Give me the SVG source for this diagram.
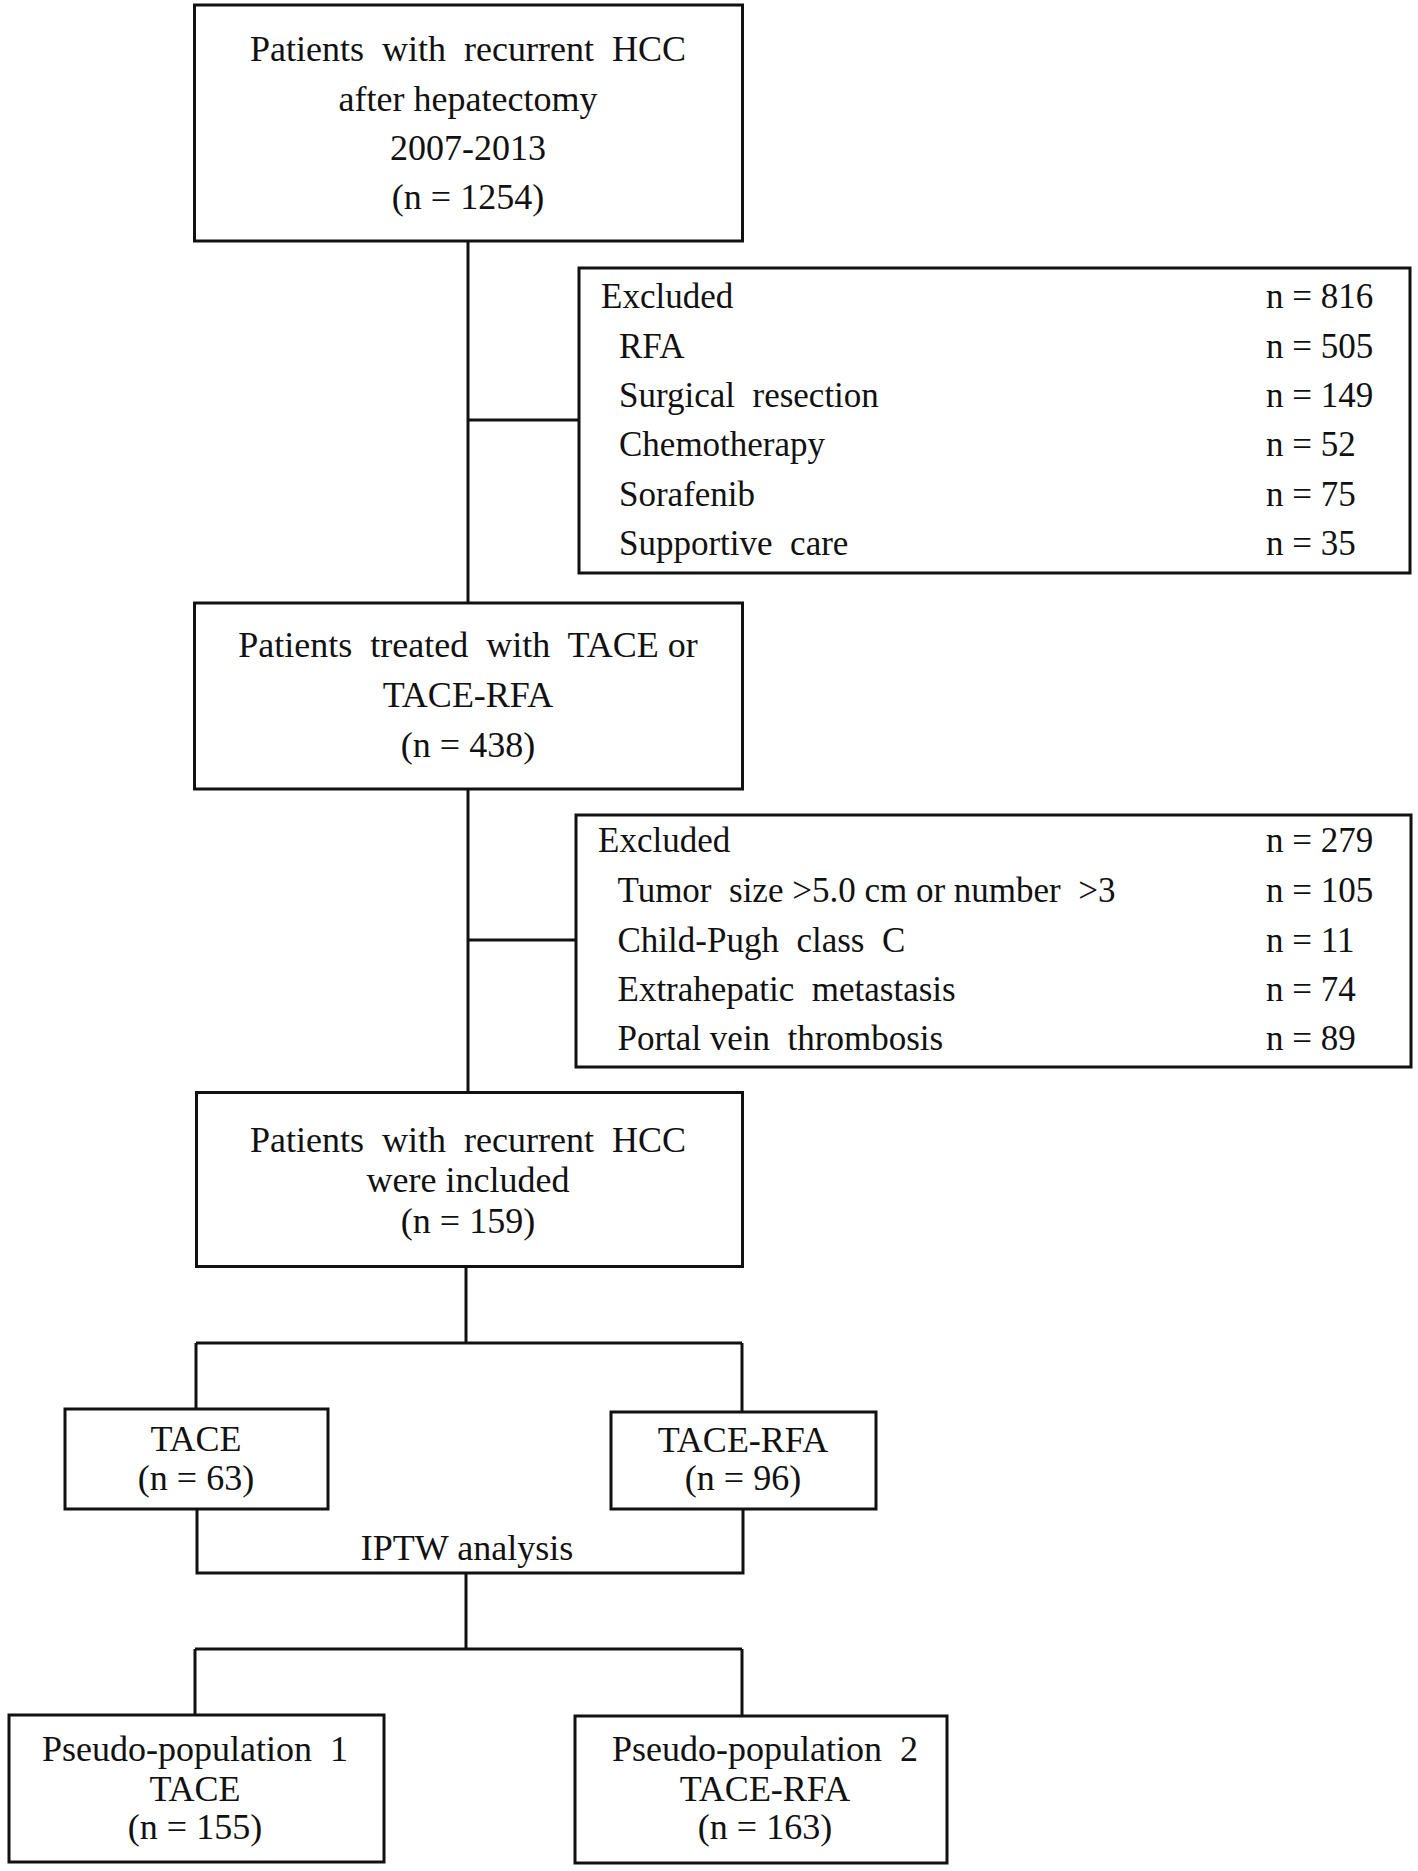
<svg xmlns="http://www.w3.org/2000/svg" width="1418" height="1871" viewBox="0 0 1418 1871">
<style>
text{font-family:"Liberation Serif","Times New Roman",serif;fill:#111;white-space:pre}
.c{text-anchor:middle;font-size:36px}
.l{font-size:35px}
.box{fill:#fff;stroke:#111;stroke-width:3}
.ln{fill:none;stroke:#111;stroke-width:3}
</style>
<g id="connectors">
<path class="ln" d="M468 241V603"/>
<path class="ln" d="M468 420H579"/>
<path class="ln" d="M468 789V1092"/>
<path class="ln" d="M468 940H576"/>
<path class="ln" d="M466 1267V1343"/>
<path class="ln" d="M196 1343H742"/>
<path class="ln" d="M196 1343V1409"/>
<path class="ln" d="M742 1343V1412"/>
<path class="ln" d="M197 1509V1573H743V1508"/>
<path class="ln" d="M466 1573V1649"/>
<path class="ln" d="M195 1649H742"/>
<path class="ln" d="M195 1649V1715"/>
<path class="ln" d="M742 1649V1716"/>
<text class="c" x="467" y="1560">IPTW analysis</text>
</g>
<g id="n1">
<rect class="box" x="194.5" y="5" width="548" height="236"/>
<text class="c" x="468" y="61">Patients  with  recurrent  HCC</text>
<text class="c" x="468" y="111">after hepatectomy</text>
<text class="c" x="468" y="160">2007-2013</text>
<text class="c" x="468" y="209">(n = 1254)</text>
</g>
<g id="ex1">
<rect class="box" x="579" y="268" width="831" height="305"/>
<text class="l" x="601" y="308">Excluded</text>
<text class="l" x="619" y="358">RFA</text>
<text class="l" x="619" y="407">Surgical  resection</text>
<text class="l" x="619" y="456">Chemotherapy</text>
<text class="l" x="619" y="506">Sorafenib</text>
<text class="l" x="619" y="555">Supportive  care</text>
<text class="l" x="1266" y="308">n = 816</text>
<text class="l" x="1266" y="358">n = 505</text>
<text class="l" x="1266" y="407">n = 149</text>
<text class="l" x="1266" y="456">n = 52</text>
<text class="l" x="1266" y="506">n = 75</text>
<text class="l" x="1266" y="555">n = 35</text>
</g>
<g id="n2">
<rect class="box" x="194.5" y="603" width="548" height="186"/>
<text class="c" x="468" y="657">Patients  treated  with  TACE or</text>
<text class="c" x="468" y="707">TACE-RFA</text>
<text class="c" x="468" y="757">(n = 438)</text>
</g>
<g id="ex2">
<rect class="box" x="576" y="815" width="835" height="252"/>
<text class="l" x="598" y="852">Excluded</text>
<text class="l" x="617.5" y="902">Tumor  size &gt;5.0 cm or number  &gt;3</text>
<text class="l" x="617.5" y="952">Child-Pugh  class  C</text>
<text class="l" x="617.5" y="1001">Extrahepatic  metastasis</text>
<text class="l" x="617.5" y="1050">Portal vein  thrombosis</text>
<text class="l" x="1266" y="852">n = 279</text>
<text class="l" x="1266" y="902">n = 105</text>
<text class="l" x="1266" y="952">n = 11</text>
<text class="l" x="1266" y="1001">n = 74</text>
<text class="l" x="1266" y="1050">n = 89</text>
</g>
<g id="n3">
<rect class="box" x="196.5" y="1092.5" width="546" height="174"/>
<text class="c" x="468" y="1152">Patients  with  recurrent  HCC</text>
<text class="c" x="468" y="1192">were included</text>
<text class="c" x="468" y="1233">(n = 159)</text>
</g>
<g id="tace">
<rect class="box" x="65" y="1409" width="263" height="100"/>
<text class="c" x="196" y="1451">TACE</text>
<text class="c" x="196" y="1490">(n = 63)</text>
</g>
<g id="tacerfa">
<rect class="box" x="611" y="1412" width="265" height="97"/>
<text class="c" x="743" y="1452">TACE-RFA</text>
<text class="c" x="743" y="1490">(n = 96)</text>
</g>
<g id="pp1">
<rect class="box" x="9" y="1715" width="375" height="147"/>
<text class="c" x="195" y="1761">Pseudo-population  1</text>
<text class="c" x="195" y="1801">TACE</text>
<text class="c" x="195" y="1839">(n = 155)</text>
</g>
<g id="pp2">
<rect class="box" x="575" y="1716" width="372" height="147"/>
<text class="c" x="765" y="1761">Pseudo-population  2</text>
<text class="c" x="765" y="1801">TACE-RFA</text>
<text class="c" x="765" y="1839">(n = 163)</text>
</g>
</svg>
